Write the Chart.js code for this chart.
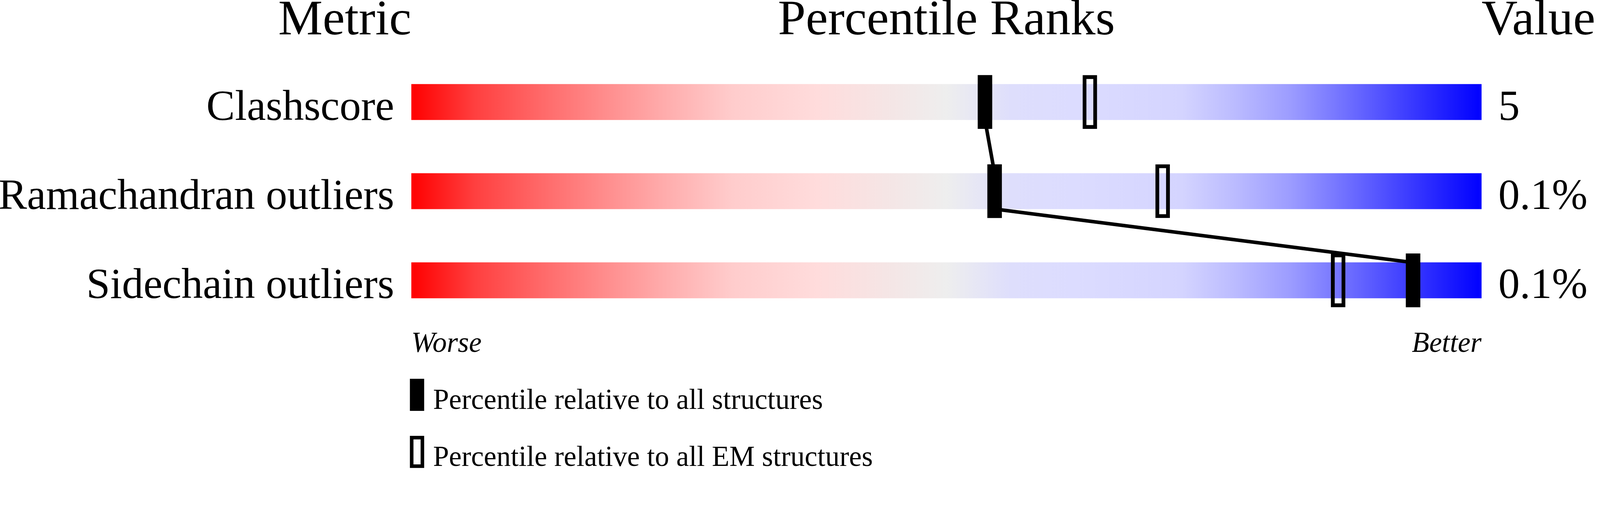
<!DOCTYPE html>
<html>
<head>
<meta charset="utf-8">
<script src="https://cdn.jsdelivr.net/npm/chart.js@4.4.1/dist/chart.umd.min.js"></script>
<style>
  html, body { margin: 0; padding: 0; background: #ffffff; overflow: hidden; }
  #wrap { width: 100vw; height: 100vh; position: relative; }
</style>
</head>
<body>
<div id="wrap"><canvas id="c"></canvas></div>
<script>
// ---------------- DATA ----------------
const metrics = ['Clashscore', 'Ramachandran outliers', 'Sidechain outliers'];
const metricValues = ['5', '0.1%', '0.1%'];
const percentileAll = [53.6, 54.5, 93.6];   // relative to all structures
const percentileEM = [63.4, 70.2, 86.6];    // relative to all EM structures
const headers = ['Metric', 'Percentile Ranks', 'Value'];
const scaleEnds = ['Worse', 'Better'];
const legendLabels = ['Percentile relative to all structures', 'Percentile relative to all EM structures'];
const percentileRange = [0, 100];

// ---------------- STYLE (reference pixels, 4485 x 1311) ----------------
const REF_W = 4485, REF_H = 1311;
const wrap = document.getElementById('wrap');
const SX = wrap.clientWidth / REF_W;
const SY = wrap.clientHeight / REF_H;
const S = Math.min(SX, SY);
const px = v => v * S;

const SERIF = '"Liberation Serif", "Times New Roman", Times, serif';
const gradientStops = [
  [0.00, '#ff0000'], [0.06, '#ff4040'], [0.12, '#ff6868'], [0.18, '#ff8c8c'],
  [0.24, '#ffaeae'], [0.30, '#ffcccc'], [0.38, '#ffdcdc'], [0.45, '#f4e6e6'],
  [0.50, '#eeeeee'], [0.56, '#dedefc'], [0.62, '#dcdcff'], [0.72, '#d4d4ff'],
  [0.77, '#bbbbff'], [0.82, '#9d9dff'], [0.86, '#7b7bff'], [1.00, '#0000ff']
];
const TRACK_PX = 100, MARKER_PX = 150, MARKER_W_PX = 40, LINE_W = 10, ROW_PX = 250;
const PLOT_W_PX = 3000;

function trackGradient(context) {
  const chart = context.chart;
  const x = chart.scales && chart.scales.x;
  if (!chart.chartArea || !x) return '#eeeeee';
  const g = chart.ctx.createLinearGradient(x.getPixelForValue(percentileRange[0]), 0, x.getPixelForValue(percentileRange[1]), 0);
  gradientStops.forEach(([o, c]) => g.addColorStop(o, c));
  return g;
}

// marker half-width in percentile units (40 px on the 3000 px wide, 0-100 axis)
const MARKER_HALF = (MARKER_W_PX / 2) / (PLOT_W_PX / (percentileRange[1] - percentileRange[0]));
const markerRanges = arr => arr.map(p => [p - MARKER_HALF, p + MARKER_HALF]);

// connector: from the bottom edge of one track to the top edge of the next, through the "all" markers
const BAR_HALF_UNITS = (TRACK_PX / 2) / ROW_PX;
const connectorPoints = [];
percentileAll.forEach((p, i) => {
  connectorPoints.push({ x: p, y: i - BAR_HALF_UNITS });
  connectorPoints.push({ x: p, y: i + BAR_HALF_UNITS });
});

const textPlugin = {
  id: 'textPlugin',
  afterDraw(chart) {
    const ctx = chart.ctx;
    const area = chart.chartArea;
    const x = chart.scales.x, y = chart.scales.y;
    ctx.save();
    ctx.fillStyle = '#000000';
    ctx.textBaseline = 'alphabetic';

    // headers
    ctx.font = `${px(140)}px ${SERIF}`;
    const hb = px(96);
    ctx.textAlign = 'right';
    ctx.fillText(headers[0], area.left, hb);
    ctx.textAlign = 'center';
    ctx.fillText(headers[1], (area.left + area.right) / 2, hb);
    ctx.textAlign = 'left';
    ctx.fillText(headers[2], area.right, hb);

    // row labels and values
    ctx.font = `${px(120)}px ${SERIF}`;
    metrics.forEach((m, i) => {
      const yb = y.getPixelForValue(i) + px(TRACK_PX / 2);
      ctx.textAlign = 'right';
      ctx.fillText(m, area.left - px(48), yb);
      ctx.textAlign = 'left';
      ctx.fillText(metricValues[i], area.right + px(47), yb);
    });

    // Worse / Better
    ctx.font = `italic ${px(80)}px ${SERIF}`;
    const eb = y.getPixelForValue(metrics.length - 1) + px(TRACK_PX / 2 + 151);
    ctx.textAlign = 'left';
    ctx.fillText(scaleEnds[0], x.getPixelForValue(percentileRange[0]), eb);
    ctx.textAlign = 'right';
    ctx.fillText(scaleEnds[1], x.getPixelForValue(percentileRange[1]), eb);

    // legend
    ctx.font = `${px(80)}px ${SERIF}`;
    ctx.textAlign = 'left';
    const lx = area.left - px(4);
    const legendTops = [eb + px(75), eb + px(235)];
    legendLabels.forEach((t, i) => {
      const top = legendTops[i];
      ctx.fillStyle = '#000000';
      ctx.fillRect(lx, top, px(MARKER_W_PX), px(90));
      if (i === 1) {
        ctx.fillStyle = '#ffffff';
        ctx.fillRect(lx + px(10), top + px(10), px(MARKER_W_PX - 20), px(70));
        ctx.fillStyle = '#000000';
      }
      ctx.fillText(t, lx + px(65), top + px(84));
    });
    ctx.restore();
  }
};

const plotLeft = 1153, plotTop = 161;
const plotH = ROW_PX * metrics.length;

new Chart(document.getElementById('c'), {
  data: {
    labels: metrics,
    datasets: [
      {
        type: 'line',
        label: 'connector',
        data: connectorPoints,
        xAxisID: 'x',
        yAxisID: 'yLine',
        borderColor: '#000000',
        borderWidth: px(LINE_W),
        pointRadius: 0,
        fill: false,
        tension: 0,
        order: 2
      },
      {
        type: 'bar',
        label: 'track',
        data: metrics.map(() => percentileRange.slice()),
        backgroundColor: trackGradient,
        borderWidth: 0,
        barThickness: px(TRACK_PX),
        grouped: false,
        xAxisID: 'x',
        yAxisID: 'y',
        order: 3
      },
      {
        type: 'bar',
        label: legendLabels[1],
        data: markerRanges(percentileEM),
        backgroundColor: 'rgba(0,0,0,0)',
        borderColor: '#000000',
        borderWidth: px(10),
        borderSkipped: false,
        barThickness: px(MARKER_PX),
        grouped: false,
        xAxisID: 'x',
        yAxisID: 'y',
        order: 1
      },
      {
        type: 'bar',
        label: legendLabels[0],
        data: markerRanges(percentileAll),
        backgroundColor: '#000000',
        borderWidth: 0,
        barThickness: px(MARKER_PX),
        grouped: false,
        xAxisID: 'x',
        yAxisID: 'y',
        order: 0
      }
    ]
  },
  options: {
    indexAxis: 'y',
    responsive: true,
    maintainAspectRatio: false,
    animation: false,
    events: [],
    layout: {
      padding: {
        left: px(plotLeft),
        right: wrap.clientWidth - px(plotLeft + PLOT_W_PX),
        top: px(plotTop),
        bottom: wrap.clientHeight - px(plotTop + plotH)
      }
    },
    scales: {
      x: { type: 'linear', min: percentileRange[0], max: percentileRange[1], display: false },
      y: { type: 'category', offset: true, display: false },
      yLine: { type: 'linear', min: -0.5, max: metrics.length - 0.5, reverse: true, display: false }
    },
    plugins: { legend: { display: false }, tooltip: { enabled: false } }
  },
  plugins: [textPlugin]
});
</script>
</body>
</html>
